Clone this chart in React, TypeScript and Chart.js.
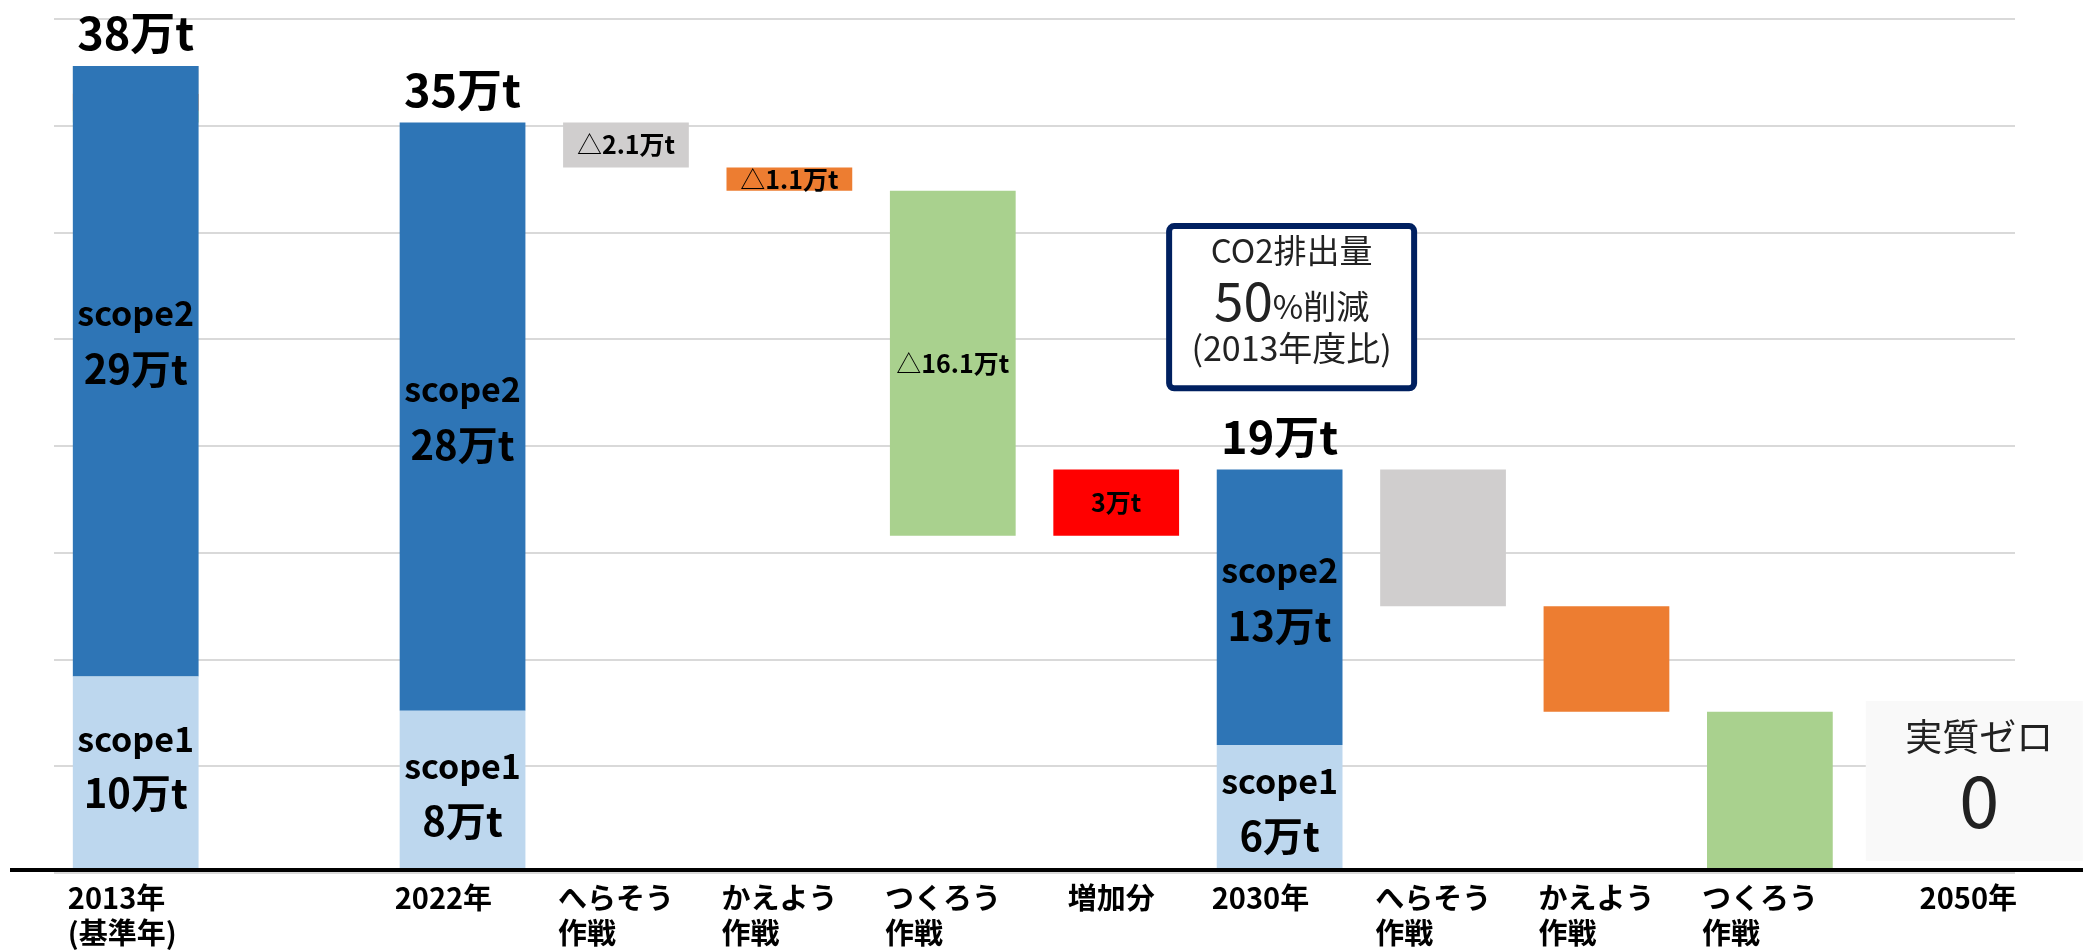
import { useEffect, useRef } from 'react';
import { Chart, registerables } from 'chart.js';

Chart.register(...registerables);

// ---- data (万t) ----
const categories: string[][] = [
  ['2013年', '(基準年)'],
  [''],
  ['2022年'],
  ['へらそう', '作戦'],
  ['かえよう', '作戦'],
  ['つくろう', '作戦'],
  ['増加分'],
  ['2030年'],
  ['へらそう', '作戦'],
  ['かえよう', '作戦'],
  ['つくろう', '作戦'],
  ['2050年'],
];
const labelCentered = [false, false, false, false, false, false, true, false, false, false, false, true];

const scope1Values = [9.2, null, 7.6, null, null, null, null, 6.0, null, null, null, null];
const totalValues = [37.8, null, 35.15, null, null, null, null, 18.9, null, null, null, null];

const herasoBars: ([number, number] | null)[] = [[36.5, 37.8], null, null, [33.05, 35.15], null, null, null, null, [12.5, 18.9], null, null, null];
const kaeyoBars: ([number, number] | null)[] = [[35.7, 36.5], null, null, null, [31.95, 33.05], null, null, null, null, [7.55, 12.5], null, null];
const tsukuroBars: ([number, number] | null)[] = [[35.15, 35.7], null, null, null, null, [15.8, 31.95], null, null, null, null, [0, 7.55], null];
const increaseBars: ([number, number] | null)[] = [null, null, null, null, null, null, [15.8, 18.9], null, null, null, null, null];

const totalLabels = ['38万t', '', '35万t', '', '', '', '', '19万t', '', '', '', ''];
const scope1Labels = ['10万t', '', '8万t', '', '', '', '', '6万t', '', '', '', ''];
const scope2Labels = ['29万t', '', '28万t', '', '', '', '', '13万t', '', '', '', ''];
const deltaLabels = ['', '', '', '△2.1万t', '△1.1万t', '△16.1万t', '3万t', '', '', '', '', ''];

// label nudges (px) for the in-bar texts
const scope2LabelShift = [-30, 0, 0, 0, 0, 0, 0, -9, 0, 0, 0, 0];
const scope1LabelShift = [-8, 0, 2, 0, 0, 0, 0, 0, 0, 0, 0, 0];

const yMin = 0;
const yMax = 40;
const yStep = 5;

const noteLines = ['CO2排出量', '50', '%削減', '(2013年度比)'];
const zeroLines = ['実質ゼロ', '0'];

const FONT = '"Noto Sans CJK JP", "Noto Sans", sans-serif';
const COLORS = {
  scope1: '#BDD7EE',
  scope2: '#2E75B6',
  heraso: '#D0CECE',
  kaeyo: '#ED7D31',
  tsukuro: '#A9D18E',
  increase: '#FF0000',
};
const CAT_PCT = 0.9;
const BAR_PCT = 0.855;

function drawMixed(ctx: CanvasRenderingContext2D, parts: { t: string; f: string }[], cx: number, cy: number) {
  let total = 0;
  const widths = parts.map((p) => {
    ctx.font = p.f;
    const w = ctx.measureText(p.t).width;
    total += w;
    return w;
  });
  let x = cx - total / 2;
  ctx.textAlign = 'left';
  ctx.textBaseline = 'middle';
  parts.forEach((p, i) => {
    ctx.font = p.f;
    ctx.fillText(p.t, x, cy);
    x += widths[i];
  });
}

const labelPlugin = {
  id: 'labelPlugin',
  afterDatasetsDraw(chart: any) {
    const ctx: CanvasRenderingContext2D = chart.ctx;
    ctx.save();
    ctx.fillStyle = '#000';
    const m1 = chart.getDatasetMeta(0);
    const m2 = chart.getDatasetMeta(1);
    categories.forEach((_, i) => {
      const e1 = m1.data[i];
      const e2 = m2.data[i];
      if (scope1Values[i] != null && e1 && e2) {
        ctx.font = `bold 45px ${FONT}`;
        ctx.textAlign = 'center';
        ctx.textBaseline = 'middle';
        ctx.fillText(totalLabels[i], e2.x, e2.y - 33);
        const mid2 = (e2.y + e2.base) / 2 + scope2LabelShift[i];
        ctx.font = `bold 34px ${FONT}`;
        ctx.fillText('scope2', e2.x, mid2 - 28);
        ctx.font = `bold 40px ${FONT}`;
        ctx.fillText(scope2Labels[i], e2.x, mid2 + 28);
        const mid1 = (e1.y + e1.base) / 2 + scope1LabelShift[i];
        ctx.font = `bold 34px ${FONT}`;
        ctx.fillText('scope1', e1.x, mid1 - 27);
        ctx.font = `bold 40px ${FONT}`;
        ctx.fillText(scope1Labels[i], e1.x, mid1 + 27);
      }
      if (deltaLabels[i]) {
        let el: any = null;
        for (let d = 2; d < chart.data.datasets.length; d++) {
          const e = chart.getDatasetMeta(d).data[i];
          if (chart.data.datasets[d].data[i] && e) el = e;
        }
        if (el) {
          const cy = (el.y + el.base) / 2;
          const t = deltaLabels[i];
          if (t.startsWith('△')) {
            drawMixed(ctx, [
              { t: '△', f: `25px ${FONT}` },
              { t: t.slice(1), f: `bold 25px ${FONT}` },
            ], el.x, cy);
          } else {
            drawMixed(ctx, [{ t, f: `bold 25px ${FONT}` }], el.x, cy);
          }
        }
      }
    });
    ctx.restore();
  },
  afterDraw(chart: any) {
    const ctx: CanvasRenderingContext2D = chart.ctx;
    const xs = chart.scales.x;
    const ys = chart.scales.y;
    ctx.save();

    const spacing = xs.getPixelForValue(1) - xs.getPixelForValue(0);
    const barW = spacing * CAT_PCT * BAR_PCT;
    ctx.fillStyle = '#000';
    ctx.font = `bold 29px ${FONT}`;
    ctx.textBaseline = 'middle';
    const base = ys.getPixelForValue(0);
    categories.forEach((lines, i) => {
      const cx = xs.getPixelForValue(i);
      lines.forEach((ln, k) => {
        const y = base + 25 + k * 35;
        if (labelCentered[i]) {
          ctx.textAlign = 'center';
          ctx.fillText(ln, cx + (i === categories.length - 1 ? 35 : -5), y);
        } else {
          ctx.textAlign = 'left';
          ctx.fillText(ln, cx - barW / 2 - 5, y);
        }
      });
    });

    // CO2 note box
    {
      const cx = xs.getPixelForValue(7) + 12;
      const w = 245;
      const top = ys.getPixelForValue(30.3);
      const bottom = ys.getPixelForValue(22.7);
      const left = cx - w / 2;
      ctx.fillStyle = '#fff';
      ctx.strokeStyle = '#002060';
      ctx.lineWidth = 6;
      ctx.beginPath();
      (ctx as any).roundRect(left, top, w, bottom - top, 5);
      ctx.fill();
      ctx.stroke();
      ctx.fillStyle = '#222';
      ctx.textAlign = 'center';
      ctx.textBaseline = 'middle';
      ctx.font = `33px ${FONT}`;
      ctx.fillText(noteLines[0], cx, top + 24);
      ctx.textBaseline = 'alphabetic';
      ctx.font = `53px ${FONT}`;
      const w50 = ctx.measureText(noteLines[1]).width;
      ctx.font = `33px ${FONT}`;
      const wRest = ctx.measureText(noteLines[2]).width;
      const sx = cx - (w50 + wRest) / 2;
      ctx.textAlign = 'left';
      ctx.font = `53px ${FONT}`;
      ctx.fillText(noteLines[1], sx, top + 95);
      ctx.font = `33px ${FONT}`;
      ctx.fillText(noteLines[2], sx + w50, top + 93);
      ctx.textAlign = 'center';
      ctx.textBaseline = 'middle';
      ctx.font = `34px ${FONT}`;
      ctx.fillText(noteLines[3], cx, top + 122);
    }

    // zero box
    {
      const cx = xs.getPixelForValue(11) + 41;
      const w = 217;
      const top = ys.getPixelForValue(8.06);
      const bottom = ys.getPixelForValue(0.56);
      ctx.fillStyle = '#F9F9F9';
      ctx.fillRect(cx - w / 2, top, w, bottom - top);
      ctx.fillStyle = '#222';
      ctx.textAlign = 'center';
      ctx.textBaseline = 'middle';
      ctx.font = `37px ${FONT}`;
      ctx.fillText(zeroLines[0], cx + 5, top + 36);
      ctx.font = `72px ${FONT}`;
      ctx.fillText(zeroLines[1], cx + 5, top + 100);
    }

    // black baseline
    ctx.strokeStyle = '#000';
    ctx.lineWidth = 4;
    ctx.beginPath();
    ctx.moveTo(10, base - 3);
    ctx.lineTo(chart.width, base - 3);
    ctx.stroke();
    ctx.restore();
  },
};

export default function App() {
  const ref = useRef<HTMLCanvasElement>(null);
  useEffect(() => {
    if (!ref.current) return;
    const mk = (data: any[], color: string) => ({
      data,
      backgroundColor: color,
      borderWidth: 0,
      grouped: false,
      categoryPercentage: CAT_PCT,
      barPercentage: BAR_PCT,
    });
    const chart = new Chart(ref.current, {
      type: 'bar',
      data: {
        labels: categories.map((c) => c.join(' ')),
        datasets: [
          mk(scope1Values.map((v) => (v == null ? null : [0, v])), COLORS.scope1),
          mk(scope1Values.map((v, i) => (v == null ? null : [v, totalValues[i] as number])), COLORS.scope2),
          mk(herasoBars, COLORS.heraso),
          mk(kaeyoBars, COLORS.kaeyo),
          mk(tsukuroBars, COLORS.tsukuro),
          mk(increaseBars, COLORS.increase),
        ] as any,
      },
      options: {
        responsive: false,
        animation: false,
        devicePixelRatio: 1,
        layout: { padding: { left: 54, right: 68, top: 19, bottom: 78 } },
        plugins: { legend: { display: false }, tooltip: { enabled: false } },
        scales: {
          x: {
            grid: { display: false },
            border: { display: false },
            ticks: { display: false },
            afterFit: (s: any) => { s.height = 0; },
          },
          y: {
            min: yMin,
            max: yMax,
            ticks: { display: false, stepSize: yStep },
            grid: { color: '#D9D9D9', lineWidth: 2, drawTicks: false },
            border: { display: false },
            afterFit: (s: any) => { s.width = 0; },
          },
        },
      } as any,
      plugins: [labelPlugin],
    });
    return () => chart.destroy();
  }, []);
  return (
    <canvas
      ref={ref}
      width={2083}
      height={951}
      style={{ position: 'absolute', left: 0, top: 0, width: 2083, height: 951 }}
    />
  );
}
